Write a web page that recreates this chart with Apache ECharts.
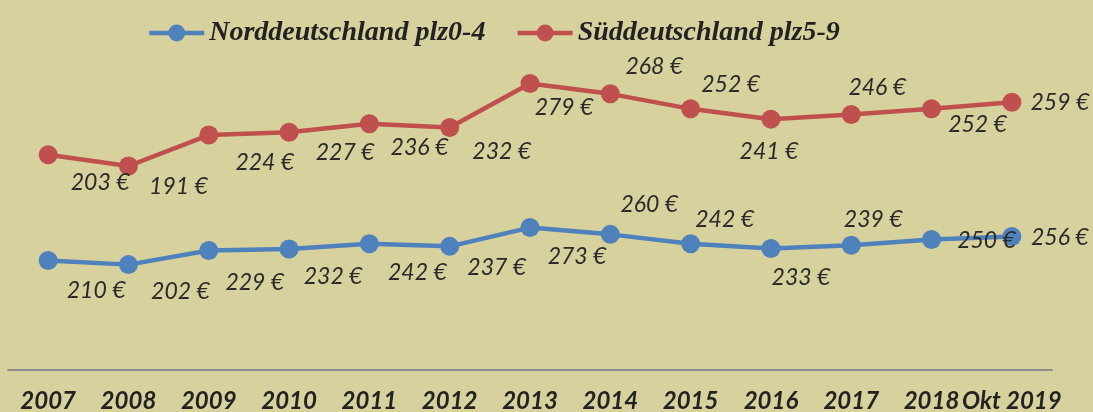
<!DOCTYPE html>
<html>
<head>
<meta charset="utf-8">
<script src="https://cdn.jsdelivr.net/npm/echarts@6/dist/echarts.min.js"></script>
<style>
  html, body { margin: 0; padding: 0; background: #d7d19e; }
  #chart { width: 1093px; height: 412px; }
</style>
</head>
<body>
<div id="chart"></div>
<script>
var years = ["2007", "2008", "2009", "2010", "2011", "2012", "2013", "2014", "2015", "2016", "2017", "2018", "Okt 2019"];
var nordValues = [210, 202, 229, 232, 242, 237, 273, 260, 242, 233, 239, 250, 256];
var suedValues = [203, 191, 224, 227, 236, 232, 279, 268, 252, 241, 246, 252, 259];

// label offsets (px) from each point, like the hand-placed labels in the original
var nordLabelOffsets = [[48, 30], [52, 27], [46, 32], [44, 28], [48, 29], [47, 21], [47, 29],
  [39, -30], [34, -24], [30, 29], [22, -26], [55, 1], [48, 1]];
var suedLabelOffsets = [[52, 28], [50, 21], [56, 27], [56, 20], [50, 24], [52, 24], [34, 24],
  [44, -27], [40, -24], [-2, 32], [26, -27], [46, 16], [48, 0]];

function withLabels(values, offsets) {
  return values.map(function (v, i) {
    return { value: v, label: { offset: offsets[i] } };
  });
}

var myChart = echarts.init(document.getElementById("chart"));
myChart.setOption({
  animation: false,
  backgroundColor: "#d7d19e",
  legend: {
    left: 142,
    top: 14,
    itemWidth: 55,
    itemHeight: 21,
    itemGap: 30,
    lineStyle: { width: 4.5 },
    textStyle: {
      fontFamily: "Liberation Serif",
      fontStyle: "italic",
      fontWeight: "bold",
      fontSize: 28,
      color: "#222"
    },
    data: ["Norddeutschland plz0-4", "Süddeutschland plz5-9"]
  },
  grid: {
    left: 8,
    right: 41,
    top: 57,
    bottom: 42,
    outerBoundsMode: "none"
  },
  xAxis: {
    type: "category",
    data: years,
    boundaryGap: true,
    axisLine: { show: true, lineStyle: { color: "#8e8e8e", width: 2 } },
    axisTick: { show: false },
    splitLine: { show: false },
    axisLabel: {
      interval: 0,
      margin: 19,
      hideOverlap: false,
      fontFamily: "Lato",
      fontStyle: "italic",
      fontWeight: "bold",
      fontSize: 24,
      color: "#222"
    }
  },
  yAxis: [
    { type: "value", min: 0, max: 600, show: false, splitLine: { show: false } },
    { type: "value", min: -26.6, max: 307.3, show: false, splitLine: { show: false } }
  ],
  series: [
    {
      name: "Norddeutschland plz0-4",
      type: "line",
      yAxisIndex: 0,
      data: withLabels(nordValues, nordLabelOffsets),
      symbol: "circle",
      symbolSize: 19,
      lineStyle: { color: "#4f81bd", width: 4.5 },
      itemStyle: { color: "#4f81bd" },
      label: {
        show: true,
        position: "inside",
        formatter: "{c} €",
        fontFamily: "Lato",
        fontStyle: "italic",
        fontSize: 23,
        color: "#2a2a2a"
      }
    },
    {
      name: "Süddeutschland plz5-9",
      type: "line",
      yAxisIndex: 1,
      data: withLabels(suedValues, suedLabelOffsets),
      symbol: "circle",
      symbolSize: 19,
      lineStyle: { color: "#c0504d", width: 4.5 },
      itemStyle: { color: "#c0504d" },
      label: {
        show: true,
        position: "inside",
        formatter: "{c} €",
        fontFamily: "Lato",
        fontStyle: "italic",
        fontSize: 23,
        color: "#2a2a2a"
      }
    }
  ]
});
</script>
</body>
</html>
